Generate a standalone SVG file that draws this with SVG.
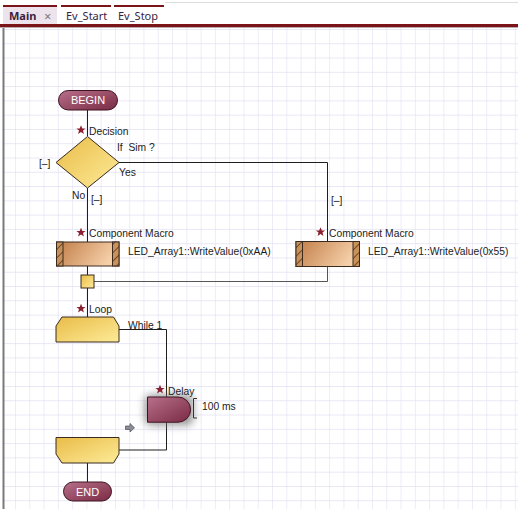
<svg xmlns="http://www.w3.org/2000/svg" width="518" height="509" viewBox="0 0 518 509">
<defs>
<pattern id="grid" patternUnits="userSpaceOnUse" x="15" y="29" width="14.28" height="14.28">
<path d="M0 0V14.28M0 0H14.28" fill="none" stroke="#e2e0f2" stroke-width="1.2"/>
</pattern>
<linearGradient id="maroon" x1="0" y1="0" x2="1" y2="1">
<stop offset="0" stop-color="#b8708a"/><stop offset="1" stop-color="#7a2a44"/>
</linearGradient>
<linearGradient id="yellow" x1="0" y1="0" x2="1" y2="1">
<stop offset="0" stop-color="#e9bc48"/><stop offset="1" stop-color="#fdeb98"/>
</linearGradient>
<linearGradient id="brown" x1="0" y1="0" x2="1" y2="0.3">
<stop offset="0" stop-color="#c07c46"/><stop offset="1" stop-color="#f6d0aa"/>
</linearGradient>
<pattern id="hatch" patternUnits="userSpaceOnUse" width="6" height="6" patternTransform="rotate(-45)">
<rect width="6" height="6" fill="#c8925a"/>
<path d="M0 0H6" stroke="#5a3418" stroke-width="1.6"/>
</pattern>
<filter id="glow" x="-50%" y="-50%" width="200%" height="200%">
<feGaussianBlur stdDeviation="4"/>
</filter>
<path id="star" d="M0,-4.8 L1.3,-1.6 4.6,-1.5 2,0.6 2.9,3.9 0,2 -2.9,3.9 -2,0.6 -4.6,-1.5 -1.3,-1.6Z"/>
</defs>
<style>
.t{font-family:"Liberation Sans",Arial,sans-serif;font-size:10.3px;fill:#1c1c1c}
.w{font-family:"Liberation Sans",Arial,sans-serif;font-size:11px;fill:#ffffff;text-anchor:middle}
.tab{font-family:"Noto Sans",sans-serif;font-size:11px;fill:#3a1e3e}
.ln{fill:none;stroke:#1e1e1e;stroke-width:1}
.ol{stroke:#3a2a20;stroke-width:1}
.st{fill:#8a2030}
</style>
<rect width="518" height="509" fill="#ffffff"/>
<!-- tabs -->
<line x1="165" y1="2.5" x2="518" y2="2.5" stroke="#dcdcdc" stroke-width="1"/>
<rect x="3" y="7" width="54" height="18" fill="#ece3ed"/>
<rect x="3" y="5" width="54" height="2" fill="#7a1418"/>
<rect x="61" y="5" width="50" height="2" fill="#7a1418"/>
<rect x="114" y="5" width="50" height="2" fill="#7a1418"/>
<text x="9" y="20" class="tab" font-weight="bold">Main</text>
<text x="44" y="20.5" class="tab" style="fill:#7a7a7a;font-size:13px">×</text>
<text x="66" y="20" class="tab">Ev_Start</text>
<text x="118" y="20" class="tab">Ev_Stop</text>
<rect x="0" y="24" width="518" height="3" fill="#7a1418"/>
<rect x="0" y="27" width="518" height="1" fill="#b8a8a8"/>
<!-- canvas -->
<rect x="4" y="28" width="514" height="481" fill="url(#grid)"/>
<rect x="2.5" y="28" width="2" height="481" fill="#7a7a7a"/>

<g id="connectors">
<path class="ln" d="M87.5 110V136"/>
<path class="ln" d="M87.5 188V242"/>
<path class="ln" d="M119 162.5H327.5V241"/>
<path class="ln" d="M87.5 266V275"/>
<path class="ln" d="M327.5 267V281.5H94" style="stroke:#555"/>
<path class="ln" d="M87.5 288V317"/>
<path class="ln" d="M119 329.5H166.5V397"/>
<path class="ln" d="M166.5 422V450H119"/>
<path class="ln" d="M87.5 463V482"/>
</g>

<g id="begin">
<rect x="58.5" y="90.5" width="59" height="19.5" rx="9.75" fill="url(#maroon)" stroke="#3e1420"/>
<text x="88" y="104.3" class="w">BEGIN</text>
</g>

<g id="decision">
<use href="#star" x="81" y="130" class="st"/>
<text x="89" y="134.5" class="t">Decision</text>
<path d="M87.5 136.5L119 162.5 87.5 188 56 162.5Z" fill="url(#yellow)" class="ol"/>
<text x="117" y="151" class="t">If&#160; Sim ?</text>
<text x="39" y="166.5" class="t">[–]</text>
<text x="119" y="176" class="t">Yes</text>
<text x="72" y="198.5" class="t">No</text>
<text x="91" y="203" class="t">[–]</text>
<text x="331" y="204" class="t">[–]</text>
</g>

<g id="macro1">
<use href="#star" x="81" y="232.5" class="st"/>
<text x="89" y="237" class="t">Component Macro</text>
<rect x="56.5" y="242" width="62.5" height="24" fill="url(#brown)" class="ol"/>
<rect x="56.5" y="242" width="6.5" height="24" fill="url(#hatch)" class="ol"/>
<rect x="112.5" y="242" width="6.5" height="24" fill="url(#hatch)" class="ol"/>
<text x="128" y="254.5" class="t">LED_Array1::WriteValue(0xAA)</text>
</g>

<g id="macro2">
<use href="#star" x="320.5" y="232" class="st"/>
<text x="329" y="237" class="t">Component Macro</text>
<rect x="296" y="241.5" width="63.5" height="25" fill="url(#brown)" class="ol"/>
<rect x="296" y="241.5" width="6.5" height="25" fill="url(#hatch)" class="ol"/>
<rect x="353" y="241.5" width="6.5" height="25" fill="url(#hatch)" class="ol"/>
<text x="368" y="254.5" class="t">LED_Array1::WriteValue(0x55)</text>
</g>

<g id="junction">
<rect x="81" y="275" width="13" height="13" fill="url(#yellow)" class="ol"/>
</g>

<g id="loop">
<use href="#star" x="81" y="308.5" class="st"/>
<text x="89" y="313" class="t">Loop</text>
<path d="M62 317H113.5L119 326V342H56V326Z" fill="url(#yellow)" class="ol"/>
<text x="128" y="329" class="t">While 1</text>
</g>

<g id="delay">
<rect x="145" y="395" width="48" height="30" rx="6" fill="#777" filter="url(#glow)" opacity="0.8"/>
<use href="#star" x="160" y="389.5" class="st"/>
<text x="168" y="394.5" class="t">Delay</text>
<path d="M147.5 397H178A12.6 12.6 0 0 1 178 422.2H147.5Z" fill="url(#maroon)" stroke="#3e1420"/>
<path d="M197 398.5H193.5V418H197" fill="none" stroke="#333"/>
<text x="202" y="409.5" class="t">100 ms</text>
</g>

<g id="arrow-icon">
<path d="M125.5 426H130V423.5L134.5 427.8 130 432V429.5H125.5Z" fill="#8a8e96" stroke="#555a62" stroke-width="0.8"/>
</g>

<g id="loopend">
<path d="M56 437.5H119V454L113.5 463H62L56 454Z" fill="url(#yellow)" class="ol"/>
</g>

<g id="end">
<rect x="63.5" y="482" width="48" height="19" rx="9.5" fill="url(#maroon)" stroke="#3e1420"/>
<text x="87.5" y="495.5" class="w">END</text>
</g>
</svg>
